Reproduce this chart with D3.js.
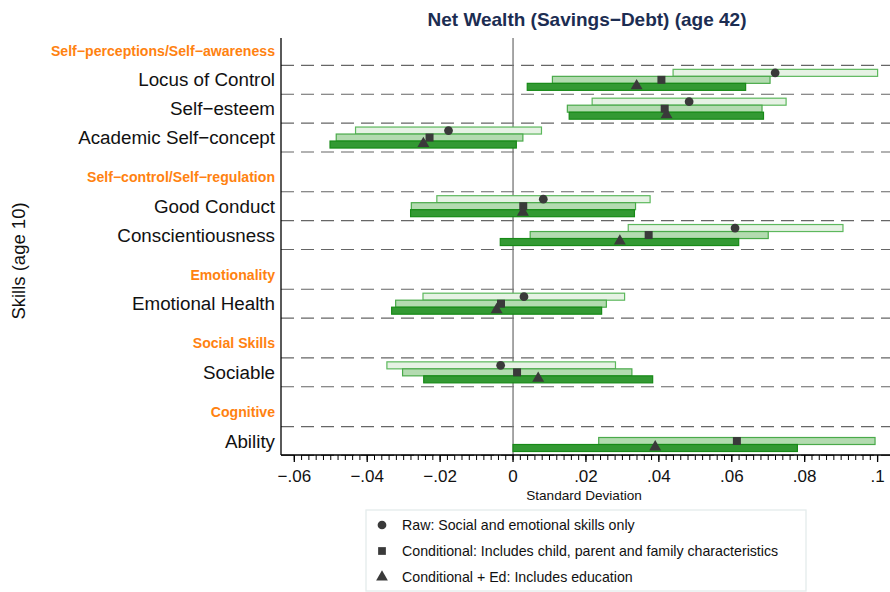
<!DOCTYPE html>
<html>
<head>
<meta charset="utf-8">
<script src="https://cdn.jsdelivr.net/npm/d3@7"></script>
<style>
  body { margin: 0; background: #fff; }
  svg { font-family: "Liberation Sans", Arial, sans-serif; }
</style>
</head>
<body>
<svg id="chart" width="890" height="592"></svg>
<script>
// groups and skills, top to bottom
var groups = ["Self\u2212perceptions/Self\u2212awareness", "Self\u2212control/Self\u2212regulation", "Emotionality", "Social Skills", "Cognitive"];
var skills = ["Locus of Control", "Self\u2212esteem", "Academic Self\u2212concept", "Good Conduct", "Conscientiousness", "Emotional Health", "Sociable", "Ability"];
var skillGroup = [0, 0, 0, 1, 1, 2, 3, 4];

// point estimate, low and high of each interval (null = not shown)
var rawEst  = [0.0719, 0.0483, -0.0177, 0.0083, 0.0609, 0.0030, -0.0034, null];
var rawLo   = [0.0439, 0.0217, -0.0432, -0.0209, 0.0316, -0.0247, -0.0346, null];
var rawHi   = [0.1000, 0.0749, 0.0078, 0.0376, 0.0905, 0.0306, 0.0281, null];
var condEst = [0.0407, 0.0416, -0.0229, 0.0028, 0.0372, -0.0033, 0.0011, 0.0614];
var condLo  = [0.0108, 0.0149, -0.0485, -0.0279, 0.0047, -0.0322, -0.0303, 0.0235];
var condHi  = [0.0705, 0.0683, 0.0027, 0.0336, 0.0700, 0.0256, 0.0326, 0.0993];
var edEst   = [0.0339, 0.0421, -0.0246, 0.0027, 0.0293, -0.0045, 0.0069, 0.0390];
var edLo    = [0.0039, 0.0154, -0.0502, -0.0281, -0.0035, -0.0333, -0.0245, 0.0000];
var edHi    = [0.0638, 0.0687, 0.0009, 0.0333, 0.0619, 0.0243, 0.0383, 0.0780];

var xTicks = [-0.06, -0.04, -0.02, 0, 0.02, 0.04, 0.06, 0.08, 0.1];
var xTickLabels = ["\u2212.06", "\u2212.04", "\u2212.02", "0", ".02", ".04", ".06", ".08", ".1"];

var legendLabels = ["Raw: Social and emotional skills only", "Conditional: Includes child, parent and family characteristics", "Conditional + Ed: Includes education"];

var margin = {top: 38, right: 0, bottom: 137, left: 281};
var width = 890 - margin.left - margin.right;
var height = 592 - margin.top - margin.bottom;

var svg = d3.select("#chart");
var g = svg.append("g").attr("transform", "translate(" + margin.left + "," + margin.top + ")");

// row positions: a header line, then its skills, one unit apart
var rows = [];
var pos = 0;
groups.forEach(function(name, gi) {
  if (gi > 0) pos += 1.38;
  rows.push({type: "group", name: name, pos: pos});
  skills.forEach(function(s, i) {
    if (skillGroup[i] === gi) { pos += 1; rows.push({type: "skill", name: s, idx: i, pos: pos}); }
  });
});

var x = d3.scaleLinear().domain([-0.06, 0.1]).range([294.3 - margin.left, 877.6 - margin.left]);
var y = d3.scaleLinear().domain([0, pos]).range([51 - margin.top, 441 - margin.top]);

var skillRows = rows.filter(function(r) { return r.type === "skill"; });

// dashed separators
var dashY = [];
skillRows.forEach(function(r) {
  [r.pos - 0.5, r.pos + 0.5].forEach(function(v) { if (dashY.indexOf(v) === -1) dashY.push(v); });
});
g.selectAll(".dash").data(dashY).enter().append("line")
    .attr("x1", 0).attr("x2", width)
    .attr("y1", function(d) { return y(d); }).attr("y2", function(d) { return y(d); })
    .attr("stroke", "#666").attr("stroke-width", 1.1)
    .attr("stroke-dasharray", "13,7");

// zero line
g.append("line")
    .attr("x1", x(0)).attr("x2", x(0)).attr("y1", 0).attr("y2", height)
    .attr("stroke", "#777").attr("stroke-width", 1.3);

var series = [
  {est: rawEst, lo: rawLo, hi: rawHi, off: -7, fill: "#e6f2e4", stroke: "#5db85d", sym: d3.symbolCircle, size: 60},
  {est: condEst, lo: condLo, hi: condHi, off: 0, fill: "#b3dbb0", stroke: "#4aaa4a", sym: d3.symbolSquare, size: 64},
  {est: edEst, lo: edLo, hi: edHi, off: 7, fill: "#339933", stroke: "#178a17", sym: d3.symbolTriangle, size: 62}
];
var barH = 7;

series.forEach(function(s) {
  var data = skillRows.filter(function(r) { return s.est[r.idx] !== null; });
  g.selectAll(null).data(data).enter().append("rect")
      .attr("x", function(r) { return x(s.lo[r.idx]); })
      .attr("width", function(r) { return x(s.hi[r.idx]) - x(s.lo[r.idx]); })
      .attr("y", function(r) { return y(r.pos) + s.off - barH / 2; })
      .attr("height", barH)
      .attr("fill", s.fill)
      .attr("stroke", s.stroke)
      .attr("stroke-width", 1.2);
});
series.forEach(function(s) {
  var data = skillRows.filter(function(r) { return s.est[r.idx] !== null; });
  g.selectAll(null).data(data).enter().append("path")
      .attr("d", d3.symbol().type(s.sym).size(s.size))
      .attr("transform", function(r) {
        var dy = s.sym === d3.symbolTriangle ? -1 : 0;
        return "translate(" + x(s.est[r.idx]) + "," + (y(r.pos) + s.off + dy) + ")";
      })
      .attr("fill", "#3a3a3a");
});

// left axis line and labels
g.append("line").attr("x1", 0).attr("x2", 0).attr("y1", 0).attr("y2", height)
    .attr("stroke", "#000").attr("stroke-width", 1.3);

g.selectAll(".rowlab").data(rows).enter().append("text")
    .attr("x", -6)
    .attr("y", function(r) { return y(r.pos); })
    .attr("dy", "0.35em")
    .attr("text-anchor", "end")
    .attr("font-size", function(r) { return r.type === "group" ? "14.1px" : "18.8px"; })
    .attr("font-weight", function(r) { return r.type === "group" ? "bold" : "normal"; })
    .attr("fill", function(r) { return r.type === "group" ? "#ff8210" : "#111"; })
    .text(function(r) { return r.name; });

// x axis
var xAxis = g.append("g").attr("transform", "translate(0," + height + ")");
xAxis.append("line").attr("x1", 0).attr("x2", width).attr("stroke", "#000").attr("stroke-width", 1.3);
var minor = d3.range(-60, 101, 2).map(function(v) { return v / 1000; });
xAxis.selectAll(".minor").data(minor).enter().append("line")
    .attr("x1", function(d) { return x(d); }).attr("x2", function(d) { return x(d); })
    .attr("y1", 0).attr("y2", 5).attr("stroke", "#000").attr("stroke-width", 1);
xAxis.selectAll(".major").data(xTicks).enter().append("line")
    .attr("x1", function(d) { return x(d); }).attr("x2", function(d) { return x(d); })
    .attr("y1", 0).attr("y2", 7).attr("stroke", "#000").attr("stroke-width", 1.3);
xAxis.selectAll(".tlab").data(xTicks).enter().append("text")
    .attr("x", function(d) { return x(d); })
    .attr("y", 27)
    .attr("text-anchor", "middle")
    .attr("font-size", "17px")
    .attr("fill", "#111")
    .text(function(d, i) { return xTickLabels[i]; });

svg.append("text")
    .attr("x", 584).attr("y", 500)
    .attr("text-anchor", "middle").attr("font-size", "13.6px").attr("fill", "#111")
    .text("Standard Deviation");

// y title
svg.append("text")
    .attr("transform", "translate(25," + 261 + ") rotate(-90)")
    .attr("text-anchor", "middle").attr("font-size", "18.5px").attr("fill", "#111")
    .text("Skills (age 10)");

// title
svg.append("text")
    .attr("x", 587).attr("y", 26)
    .attr("text-anchor", "middle").attr("font-size", "19px").attr("font-weight", "bold")
    .attr("fill", "#1c2d52")
    .text("Net Wealth (Savings\u2212Debt) (age 42)");

// legend
var lg = svg.append("g").attr("transform", "translate(366,510)");
lg.append("rect").attr("width", 440).attr("height", 81)
    .attr("fill", "#fff").attr("stroke", "#e4ecec").attr("stroke-width", 1.3);
var legSyms = [d3.symbolCircle, d3.symbolSquare, d3.symbolTriangle];
legendLabels.forEach(function(t, i) {
  lg.append("path")
      .attr("d", d3.symbol().type(legSyms[i]).size(60))
      .attr("transform", "translate(16," + (15 + i * 26) + ")")
      .attr("fill", "#3a3a3a");
  lg.append("text")
      .attr("x", 36).attr("y", 15 + i * 26).attr("dy", "0.35em")
      .attr("font-size", "14.2px").attr("fill", "#111")
      .text(t);
});
</script>
</body>
</html>
